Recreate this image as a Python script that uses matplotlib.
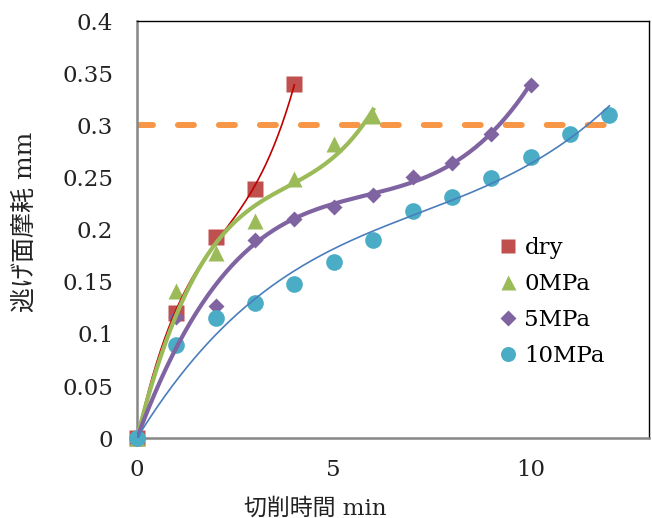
import numpy as np
import matplotlib
matplotlib.use("Agg")
import matplotlib.pyplot as plt
from matplotlib.lines import Line2D

plt.rcParams["font.family"] = ["DejaVu Serif", "Noto Sans CJK JP"]
plt.rcParams["lines.scale_dashes"] = False

# data
x_dry = [0, 1, 2, 3, 4]
y_dry = [0, 0.120, 0.193, 0.239, 0.340]
x_0 = [0, 1, 2, 3, 4, 5, 6]
y_0 = [0, 0.141, 0.178, 0.208, 0.249, 0.282, 0.309]
x_5 = [0, 1, 2, 3, 4, 5, 6, 7, 8, 9, 10]
y_5 = [0, 0.116, 0.127, 0.190, 0.210, 0.222, 0.233, 0.251, 0.264, 0.292, 0.339]
x_10 = [0, 1, 2, 3, 4, 5, 6, 7, 8, 9, 10, 11, 12]
y_10 = [0, 0.089, 0.115, 0.130, 0.148, 0.169, 0.190, 0.218, 0.231, 0.250, 0.270, 0.292, 0.310]
labels = ["dry", "0MPa", "5MPa", "10MPa"]
limit_y = 0.3
limit_x = [0, 12.15]


def trend(x, y, deg):
    # polynomial trendline through the origin
    x = np.asarray(x, float)
    y = np.asarray(y, float)
    A = np.column_stack([x ** k for k in range(1, deg + 1)])
    c, *_ = np.linalg.lstsq(A, y, rcond=None)
    xs = np.linspace(0, x.max(), 200)
    ys = sum(ci * xs ** (k + 1) for k, ci in enumerate(c))
    return xs, ys


fig = plt.figure(figsize=(6.52, 5.18), dpi=100)
ax = fig.add_axes([0.210, 0.154, 0.785, 0.805])

ax.plot(limit_x, [limit_y, limit_y], color="#F79646", lw=4.3,
        dashes=(11.5, 18.0), dash_capstyle="round", zorder=1)

series = [
    (x_dry, y_dry, "s", 11, "#C0504D", "#C00000", 1.2, 3),
    (x_0, y_0, "^", 12, "#9BBB59", "#9BBB59", 3.0, 3),
    (x_5, y_5, "D", 8.5, "#8064A2", "#8064A2", 3.0, 3),
    (x_10, y_10, "o", 12, "#4BACC6", "#4A7EBB", 1.2, 3),
]
handles = []
for (x, y, m, ms, mc, lc, lw, deg), lab in zip(series, labels):
    ax.plot(x, y, ls="none", marker=m, ms=ms, color=mc, mec="none", zorder=3, clip_on=False)
    xs, ys = trend(x, y, deg)
    ax.plot(xs, ys, color=lc, lw=lw, zorder=4)
    handles.append(Line2D([], [], ls="none", marker=m, ms=ms * 0.9, color=mc, mec="none"))

ax.set_xlim(0, 13)
ax.set_ylim(0, 0.4)
ax.set_xticks([0, 5, 10])
ax.set_yticks(np.arange(0, 0.41, 0.05))
ax.set_yticklabels(["0", "0.05", "0.1", "0.15", "0.2", "0.25", "0.3", "0.35", "0.4"])
ax.tick_params(length=0, labelsize=16.5, colors="#222222")
ax.tick_params(axis="y", pad=17)
ax.tick_params(axis="x", pad=15)

for s in ["top", "right"]:
    ax.spines[s].set_color("black")
    ax.spines[s].set_linewidth(1.0)
for s in ["left", "bottom"]:
    ax.spines[s].set_color("#868686")
    ax.spines[s].set_linewidth(1.8)

ax.set_xlabel("切削時間 min", fontsize=16.5, color="#222222", va="center")
ax.xaxis.set_label_coords(0.348, -0.168)
ax.set_ylabel("逃げ面摩耗 mm", fontsize=18, color="#222222", va="center")
ax.yaxis.set_label_coords(-0.219, 0.518)

ax.legend(handles, labels, loc="upper left", bbox_to_anchor=(0.69, 0.505),
          frameon=False, fontsize=16.5, handlelength=0.8, handletextpad=0.3,
          labelspacing=0.62, borderaxespad=0)

fig.savefig("out.png", dpi=100)
